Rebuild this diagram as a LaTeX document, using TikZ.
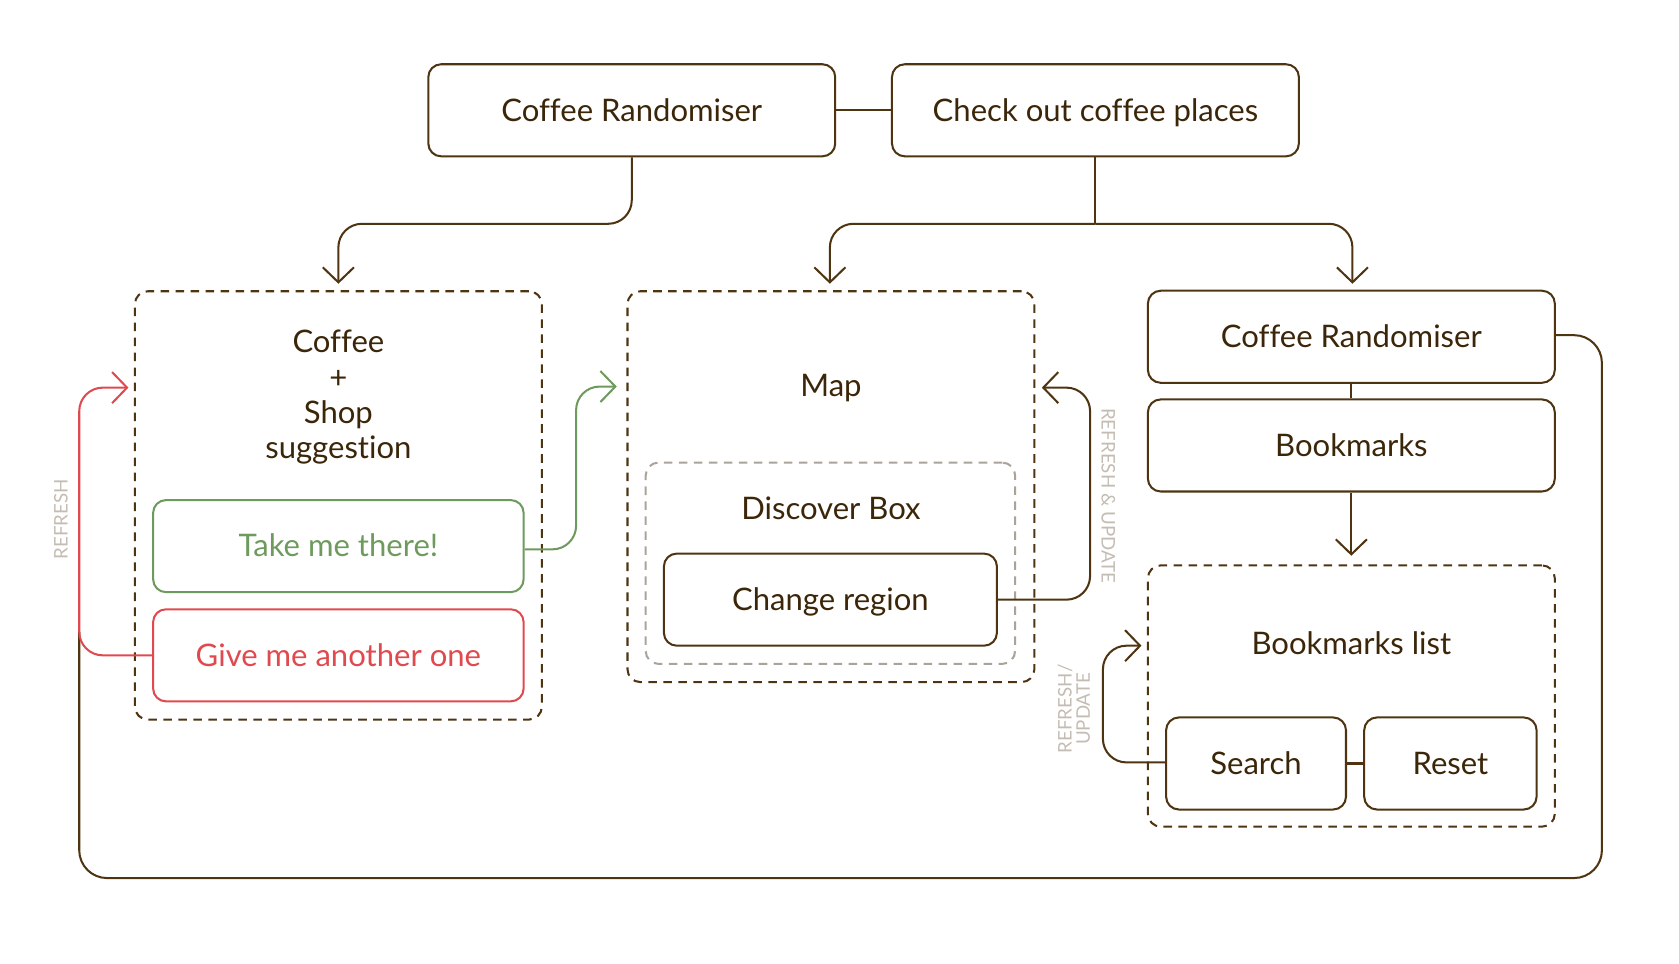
\documentclass[tikz,border=0pt]{standalone}
\usepackage{fontspec}
\setmainfont{Lato}[Ligatures={NoCommon}]
\usetikzlibrary{arrows.meta,calc}
\definecolor{brn}{HTML}{4F3412}
\definecolor{brntxt}{HTML}{3B2609}
\definecolor{grn}{HTML}{6F9A5E}
\definecolor{rd}{HTML}{E04A4F}
\definecolor{lbl}{HTML}{C4BCB2}
\definecolor{gdash}{HTML}{AAA39A}
\tikzset{
  box/.style={draw=brn, line width=1.9pt, rounded corners=12pt, text=brntxt,
    font=\fontsize{29}{30}\selectfont, inner sep=0pt, text height=20pt, text depth=0pt},
  dbox/.style={draw=brn, line width=1.9pt, rounded corners=12pt, dash pattern=on 8pt off 6pt, inner sep=0pt},
  gbox/.style={draw=gdash, line width=1.9pt, rounded corners=12pt, dash pattern=on 8pt off 6pt, inner sep=0pt},
  txt/.style={text=brntxt, font=\fontsize{29}{33}\selectfont, align=center},
  conn/.style={draw=brn, line width=1.9pt, rounded corners=22pt},
  arr/.style={-{Straight Barb[length=14pt,width=29pt,line width=1.9pt]}},
  lab/.style={text=lbl, font=\fontsize{17.5}{17}\selectfont, align=center},
}
\begin{document}
\begin{tikzpicture}[x=1pt,y=1pt]
\useasboundingbox (0,0) rectangle (1568,-900);
% top boxes
\node[box, minimum width=380pt, minimum height=86pt] (top1) at (590,-103) {Coffee Randomiser};
\node[box, minimum width=380pt, minimum height=86pt] (top2) at (1023,-103) {Check out coffee places};
% left column
\node[dbox, minimum width=380pt, minimum height=400pt] (d1) at (316,-472) {};
\node[txt] (cs) at (316,-371) {Coffee\\+\\Shop\\suggestion};
\node[box, draw=grn, text=grn, minimum width=346pt, minimum height=86pt] (take) at (316,-510) {Take me there!};
\node[box, draw=rd, text=rd, minimum width=346pt, minimum height=86pt] (give) at (316,-612) {Give me another one};
% middle column
\node[dbox, minimum width=380pt, minimum height=365pt] (d2) at (776,-454.5) {};
\node[txt] (map) at (776,-362) {Map};
\node[gbox, minimum width=345pt, minimum height=188pt] (d3) at (775.5,-526) {};
\node[txt] (disc) at (776,-475) {Discover Box};
\node[box, minimum width=311pt, minimum height=86pt] (chg) at (775.5,-560) {Change region};
% right column
\node[box, minimum width=380pt, minimum height=86pt] (cr2) at (1262,-314.5) {Coffee Randomiser};
\node[box, minimum width=380pt, minimum height=86pt] (bm) at (1262,-416) {Bookmarks};
\node[dbox, minimum width=380pt, minimum height=244pt] (d4) at (1262,-650) {};
\node[txt] (bml) at (1262,-601) {Bookmarks list};
\node[box, minimum width=168pt, minimum height=86pt] (srch) at (1173,-713) {Search};
\node[box, minimum width=161pt, minimum height=86pt] (rst) at (1354.5,-713) {Reset};
% coordinates
\coordinate (j1) at (590,-209);
\coordinate (j2) at (1023,-209);
\coordinate (a1) at (316,-265);
\coordinate (a2) at (775,-265);
\coordinate (a3) at (1263,-265);
\coordinate (a4) at (1262,-519);
% connectors
\draw[conn] (top1.east) -- (top2.west);
\draw[conn, arr] (top1.south) -- (j1) -| (a1);
\draw[conn] (top2.south) -- (j2);
\draw[conn, arr] (j2) -| (a2);
\draw[conn, arr] (j2) -| (a3);
\draw[conn] (cr2.south) -- (bm.north);
\draw[conn, arr] (bm.south) -- (a4);
\draw[conn] (srch.east) -- (rst.west);
% big loop
\coordinate (l1) at (1496,-313);
\coordinate (l2) at (1496,-820);
\coordinate (l3) at (74,-820);
\coordinate (l4) at (74,-590);
\draw[conn, rounded corners=26pt] (cr2.east |- l1) -- (l1) -- (l2) -- (l3) -- (l4);
% refresh (red)
\coordinate (r1) at (74,-612);
\coordinate (r2) at (74,-362);
\coordinate (r3) at (120,-362);
\draw[conn, draw=rd, rounded corners=22pt, -{Straight Barb[length=14pt,width=29pt,line width=1.9pt]}] (give.west) -- (r1) -- (r2) -- (r3);
% take me there (green)
\coordinate (g1) at (538,-513);
\coordinate (g2) at (538,-361);
\coordinate (g3) at (576,-361);
\draw[conn, draw=grn, rounded corners=22pt, -{Straight Barb[length=14pt,width=29pt,line width=1.9pt]}] (take.east |- g1) -- (g1) -- (g2) -- (g3);
% change region refresh
\coordinate (c1) at (1018,-560);
\coordinate (c2) at (1018,-362);
\coordinate (c3) at (973,-362);
\draw[conn, arr] (chg.east) -- (c1) -- (c2) -- (c3);
% search refresh
\coordinate (s1) at (1030,-712);
\coordinate (s2) at (1030,-603);
\coordinate (s3) at (1066,-603);
\draw[conn, arr] (srch.west |- s1) -- (s1) -- (s2) -- (s3);
% labels
\node[lab, rotate=90] (lref) at (57,-485) {REFRESH};
\node[lab, rotate=-90] (lru) at (1035,-463) {REFRESH \& UPDATE};
\node[lab, rotate=90] (lru2) at (1003,-662) {REFRESH/\\UPDATE};
\end{tikzpicture}
\end{document}
